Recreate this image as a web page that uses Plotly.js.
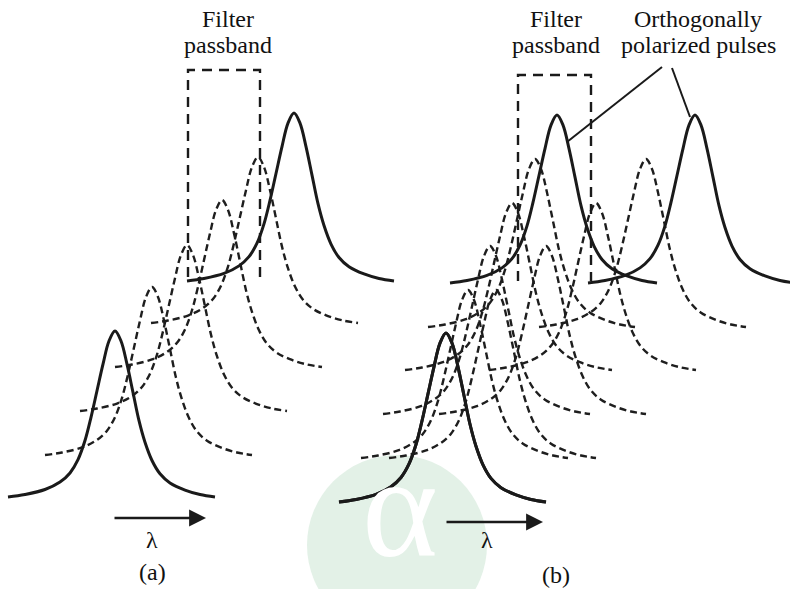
<!DOCTYPE html>
<html>
<head>
<meta charset="utf-8">
<script src="https://cdn.plot.ly/plotly-3.0.1.min.js"></script>
<style>
  html, body { margin: 0; padding: 0; background: #ffffff; }
  #chart { width: 790px; height: 589px; }
</style>
</head>
<body>
<div id="chart"></div>
<script>
// ---- Pulse profile (offset from centre, fraction of peak height) ----
const PROFILE_OFFSET = [-107, -90, -70, -55, -45, -37, -30, -24, -18, -12, -6, 0, 6, 12, 18, 24, 30, 37, 45, 55, 70, 85, 100];
const PROFILE_LEVEL  = [0, 0.015, 0.045, 0.09, 0.145, 0.225, 0.34, 0.48, 0.64, 0.80, 0.94, 1, 0.94, 0.80, 0.63, 0.46, 0.33, 0.22, 0.14, 0.085, 0.042, 0.015, 0];

// ---- Panel (a): pulse train, front to back ----
const PANEL_A_CENTER = [115, 152, 187, 222, 258, 294];
const PANEL_A_PEAK   = [331, 287, 245, 200, 157, 113];
const PANEL_A_BASE   = [497, 455, 411, 367, 323, 281];

// ---- Panel (b): two orthogonal polarizations, front to back ----
const PANEL_B_POL1_CENTER = [446, 468, 490, 512, 535, 557];
const PANEL_B_POL2_CENTER = [446, 496, 546, 596, 646, 695];
const PANEL_B_PEAK        = [333, 290, 246, 203, 159, 115];
const PANEL_B_BASE        = [502, 458, 414, 370, 327, 283];

// ---- Text labels ----
const FILTER_LABEL = ['Filter', 'passband'];
const POL_LABEL = ['Orthogonally', 'polarized pulses'];
const AXIS_SYMBOL = 'λ';
const PANEL_LABELS = ['(a)', '(b)'];
const WATERMARK = 'α';

function pulse(cx, peak, base, isSolid) {
  const x = PROFILE_OFFSET.map(o => cx + o);
  const y = PROFILE_LEVEL.map(l => base - (base - peak) * l);
  return {
    type: 'scatter', mode: 'lines', x: x, y: y,
    line: isSolid
      ? { color: '#1a1a1a', width: 3, shape: 'spline', smoothing: 1 }
      : { color: '#1e1e1e', width: 2.4, dash: '7px,4px', shape: 'spline', smoothing: 1 },
    hoverinfo: 'skip', showlegend: false
  };
}

const dashedTraces = [];
const solidTraces = [];
const last = PANEL_A_CENTER.length - 1;
PANEL_A_CENTER.forEach((cx, i) => {
  const solid = (i === 0 || i === last);
  (solid ? solidTraces : dashedTraces).push(pulse(cx, PANEL_A_PEAK[i], PANEL_A_BASE[i], solid));
});
[PANEL_B_POL1_CENTER, PANEL_B_POL2_CENTER].forEach(centers => {
  centers.forEach((cx, i) => {
    const solid = (i === 0 || i === centers.length - 1);
    (solid ? solidTraces : dashedTraces).push(pulse(cx, PANEL_B_PEAK[i], PANEL_B_BASE[i], solid));
  });
});

const serif = 'Liberation Serif, Times New Roman, serif';
const txt = (text, x, y, size, color) => ({
  text: text, x: x, y: y, xref: 'x', yref: 'y', showarrow: false,
  xanchor: 'center', yanchor: 'middle',
  font: { family: serif, size: size || 24, color: color || '#111111' }
});
const arrow = (x0, x1, y) => ({
  x: x1, y: y, ax: x0, ay: y, xref: 'x', yref: 'y', axref: 'x', ayref: 'y',
  text: '', showarrow: true, arrowhead: 2, arrowsize: 1.3, arrowwidth: 2.6, arrowcolor: '#1a1a1a'
});
const boxPath = (x0, x1, top, bottom) => ({
  type: 'path', xref: 'x', yref: 'y',
  path: `M ${x0} ${bottom} L ${x0} ${top} L ${x1} ${top} L ${x1} ${bottom}`,
  line: { color: '#1a1a1a', width: 2.4, dash: '10px,7px' }
});

// watermark glyph, kept fully inside the picture
const watermark = {
  text: WATERMARK, x: 400, y: 588, xref: 'x', yref: 'y', showarrow: false,
  xanchor: 'center', yanchor: 'bottom', borderpad: 0,
  font: { family: serif, size: 145, color: '#ffffff' }
};

const layout = {
  width: 790, height: 589,
  margin: { l: 0, r: 0, t: 0, b: 0 },
  paper_bgcolor: '#ffffff', plot_bgcolor: '#ffffff',
  xaxis: { range: [0, 790], visible: false, fixedrange: true },
  yaxis: { range: [589, 0], visible: false, fixedrange: true },
  showlegend: false,
  shapes: [
    { type: 'circle', xref: 'x', yref: 'y', x0: 307, x1: 487, y0: 455, y1: 635,
      fillcolor: '#e3f1e7', line: { width: 0 }, layer: 'below' },
    boxPath(188, 260, 70, 277),
    boxPath(518, 591, 75, 281),
    { type: 'line', xref: 'x', yref: 'y', x0: 662, y0: 67, x1: 567, y1: 142, line: { color: '#1a1a1a', width: 2 } },
    { type: 'line', xref: 'x', yref: 'y', x0: 672, y0: 68, x1: 690, y1: 117, line: { color: '#1a1a1a', width: 2 } }
  ],
  annotations: [
    watermark,
    txt(FILTER_LABEL[0], 228, 19),
    txt(FILTER_LABEL[1], 228, 45),
    txt(FILTER_LABEL[0], 556, 19),
    txt(FILTER_LABEL[1], 556, 45),
    txt(POL_LABEL[0], 698, 19),
    txt(POL_LABEL[1], 698, 45),
    arrow(113, 206, 518),
    arrow(445, 543, 522),
    txt(AXIS_SYMBOL, 152, 540),
    txt(AXIS_SYMBOL, 487, 540),
    txt(PANEL_LABELS[0], 152, 572),
    txt(PANEL_LABELS[1], 556, 575)
  ]
};

Plotly.newPlot('chart', dashedTraces.concat(solidTraces), layout, { staticPlot: true, displayModeBar: false });
</script>
</body>
</html>
